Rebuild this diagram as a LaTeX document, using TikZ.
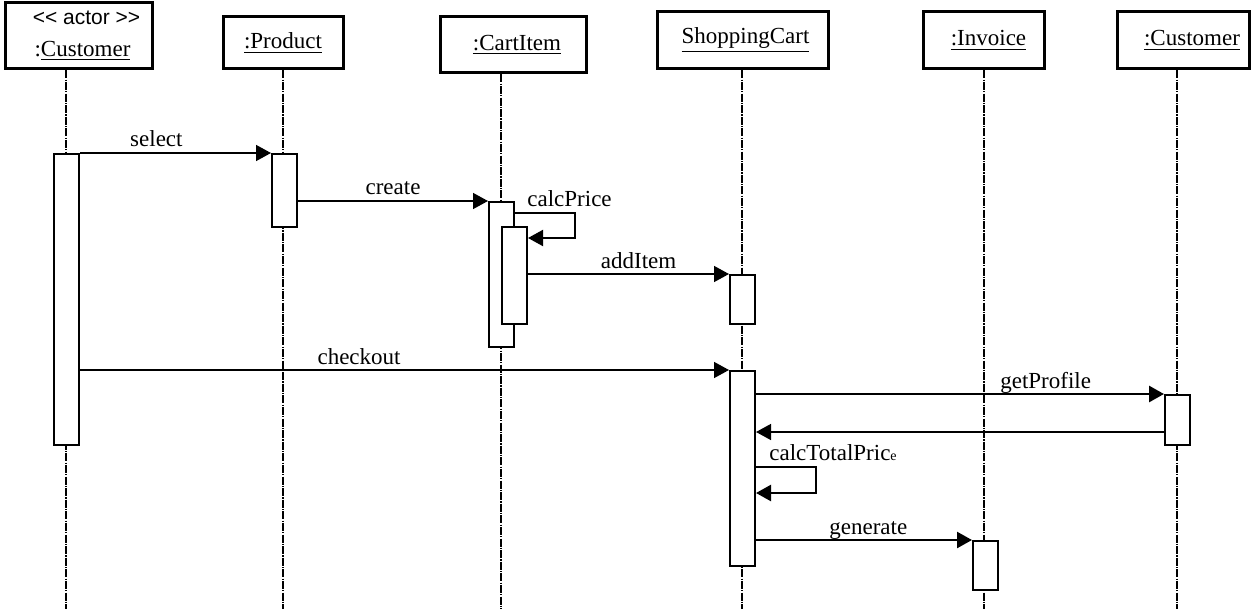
\documentclass[tikz,border=0pt]{standalone}
\usepackage{fontspec}
\setmainfont{Liberation Serif}
\newfontfamily\stereofont{Liberation Sans}
\usetikzlibrary{arrows.meta}

\begin{document}
\begin{tikzpicture}[x=0.5pt, y=-0.5pt,
    font=\fontsize{11.5}{13}\selectfont,
    obj/.style={draw, line width=1.5pt, inner sep=0pt, align=center},
    life/.style={line width=0.7pt, dash pattern=on 4pt off 0.6pt on 0.6pt off 0.6pt},
    act/.style={draw, fill=white, line width=1pt, inner sep=0pt, minimum width=12.5pt, anchor=north west},
    msg/.style={-{Triangle[length=7.5pt, width=8pt]}, line width=0.75pt},
    lbl/.style={anchor=base, yshift=3pt, inner sep=0pt}]

    \useasboundingbox (0,0) rectangle (1251,609);

    % Objects
    \node[obj, minimum width=73.5pt, minimum height=33pt] (cust) at (78.5,36)
        {\hspace{8pt}{\stereofont\fontsize{10.5}{12}\selectfont <\kern0pt< actor >\kern0pt>}\\[3pt]
         \hspace{4pt}:\underline{Customer}};
    \node[obj, minimum width=60pt, minimum height=26pt] (prod) at (283,43) {\underline{:Product}};
    \node[obj, minimum width=73pt, minimum height=28pt] (item) at (513,45) {\hspace{4pt}\underline{:CartItem}};
    \node[obj, minimum width=85.5pt, minimum height=28.5pt] (cart) at (742.5,40.5) {\hspace{3pt}\underline{ShoppingCart}};
    \node[obj, minimum width=60.5pt, minimum height=28.5pt] (inv) at (983.5,40.5) {\hspace{5pt}\underline{:Invoice}};
    \node[obj, minimum width=66pt, minimum height=28.5pt] (prof) at (1183,40.5) {\hspace{9pt}\underline{:Customer}};

    % Lifelines
    \foreach \n/\x in {cust/66, prod/283, item/501, cart/742, inv/984, prof/1177} {
        \coordinate (\n-end) at (\x,609);
        \draw[life] (\n-end |- \n.south) -- (\n-end);
    }

    % Activations
    \node[act, minimum height=145.5pt] (custA) at (53,153) {};
    \node[act, minimum height=36.5pt] (prodA) at (271,153) {};
    \node[act, minimum height=72.5pt] (itemA) at (488,201) {};
    \node[act, minimum height=48.5pt] (itemB) at (501,226) {};
    \node[act, minimum height=24.5pt] (cartA) at (729,274) {};
    \node[act, minimum height=97.5pt] (cartB) at (729,370) {};
    \node[act, minimum height=25pt] (profA) at (1164,394) {};
    \node[act, minimum height=24.5pt] (invA) at (972,540) {};

    % Messages
    \draw[msg] (custA.north east) -- node[lbl, pos=0.4] (lSelect) {select} (prodA.north west);
    \draw[msg] (prodA.east |- itemA.north) -- node[lbl, pos=0.5] (lCreate) {create} (itemA.north west);
    \draw[msg, line width=1pt] ([yshift=-6pt]itemA.north east) -- ++(30pt,0) |- ([yshift=-6pt]itemB.north east);
    \node[anchor=base west, inner sep=0pt] (lPrice) at (527,206) {calcPrice};
    \draw[msg] (itemB.east |- cartA.north) -- node[lbl, pos=0.55] (lAdd) {addItem} (cartA.north west);
    \draw[msg] (custA.east |- cartB.north) -- node[lbl, pos=0.43] (lCheckout) {checkout} (cartB.north west);
    \draw[msg, line width=1.4pt] (cartB.east |- profA.north) -- node[lbl, pos=0.71] (lProfile) {getProfile} (profA.north west);
    \coordinate (ret) at ([yshift=-6pt]profA.west);
    \draw[msg] (ret) -- (cartB.east |- ret);
    \draw[msg, line width=1.2pt] ([yshift=-48.5pt]cartB.north east) -- ++(30pt,0) |- ([yshift=-61.5pt]cartB.north east);
    \node[anchor=base west, inner sep=0pt] (lTotal) at (769,460) {calcTotalPric{\fontsize{7}{8}\selectfont e}};
    \draw[msg, line width=1.2pt] (cartB.east |- invA.north) -- node[lbl, pos=0.52] (lGenerate) {generate} (invA.north west);
\end{tikzpicture}
\end{document}
